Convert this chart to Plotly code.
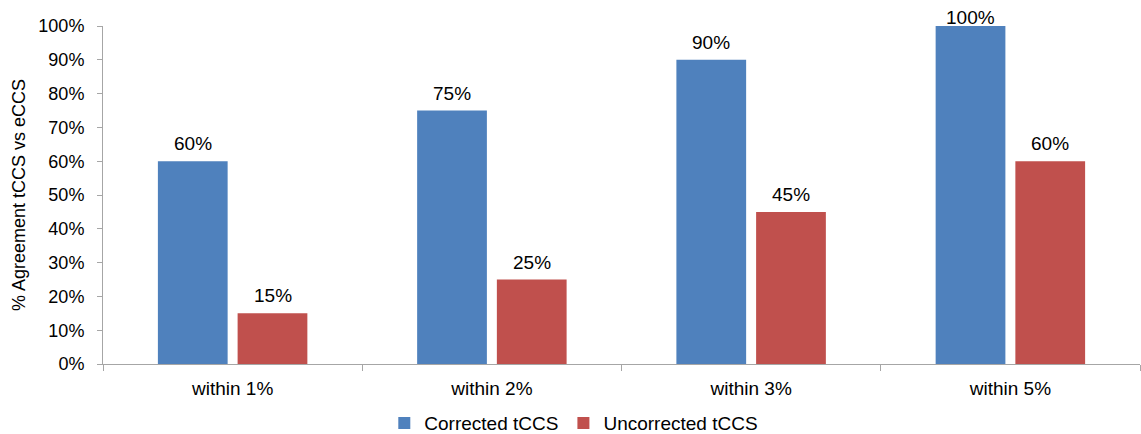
import plotly.graph_objects as go

categories = ["within 1%", "within 2%", "within 3%", "within 5%"]
corrected = [0.60, 0.75, 0.90, 1.00]
uncorrected = [0.15, 0.25, 0.45, 0.60]
y_ticks = [0, 0.1, 0.2, 0.3, 0.4, 0.5, 0.6, 0.7, 0.8, 0.9, 1.0]

FONT = "Liberation Sans, Arial, sans-serif"
AXIS_GRAY = "#A6A6A6"

fig = go.Figure()
fig.add_trace(go.Bar(
    name="Corrected tCCS", x=categories, y=corrected,
    marker=dict(color="#4F81BD", line=dict(width=0)),
    offsetgroup="a", cliponaxis=False,
))
fig.add_trace(go.Bar(
    name="Uncorrected tCCS", x=categories, y=uncorrected,
    marker=dict(color="#C0504D", line=dict(width=0)),
    offsetgroup="b", cliponaxis=False,
))

# value labels above each bar, placed from the same series values;
# the full-height label is tucked down onto the bar so it stays on the page
for trace_idx, values in enumerate([corrected, uncorrected]):
    for cat, v in zip(categories, values):
        fig.add_annotation(
            x=cat, y=v, text=f"{v:.0%}", showarrow=False,
            xref="x", yref="y", yanchor="bottom",
            xshift=-40 if trace_idx == 0 else 40,
            yshift=5 if v < 1 else -4,
            font=dict(size=19, color="#000000"),
        )

fig.update_layout(
    width=1141, height=434,
    margin=dict(l=103, r=1, t=26, b=70, autoexpand=False),
    paper_bgcolor="white", plot_bgcolor="white",
    font=dict(family=FONT, size=18, color="#000000"),
    barmode="group", bargap=0.385, bargroupgap=0.125,
    showlegend=True,
    legend=dict(orientation="h", x=0.454, xanchor="center", y=-0.175, yanchor="middle",
                font=dict(size=19), itemwidth=30, traceorder="normal"),
)
fig.update_xaxes(
    showline=True, linecolor=AXIS_GRAY, linewidth=1,
    ticks="outside", tickson="boundaries", ticklen=6, tickcolor=AXIS_GRAY,
    showgrid=False, tickfont=dict(size=19), ticklabelstandoff=7,
)
fig.update_yaxes(
    range=[0, 1], tickvals=y_ticks, tickformat=".0%",
    showline=True, linecolor=AXIS_GRAY, linewidth=1,
    ticks="outside", ticklen=5, tickcolor=AXIS_GRAY,
    showgrid=False, zeroline=False, tickfont=dict(size=18), ticklabelstandoff=9,
    title=dict(text="% Agreement tCCS vs eCCS", font=dict(size=18), standoff=8),
)

fig.write_html("out.html")
